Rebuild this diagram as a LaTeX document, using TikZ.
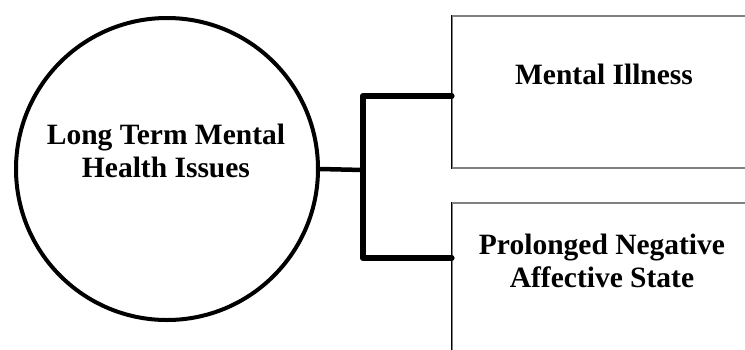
\documentclass[tikz,border=0pt]{standalone}
\usepackage{fontspec}
\setmainfont{Liberation Serif}

\tikzset{
    issue/.style={circle, draw=black, line width=4pt, inner sep=0pt, minimum size=302pt},
    kind/.style={rectangle, draw=gray, line width=1.2pt, inner sep=0pt, minimum width=302pt, minimum height=152pt},
    lbl/.style={align=center, inner sep=0pt, font=\bfseries\fontsize{29.5}{32.5}\selectfont},
    stem/.style={line width=4.5pt},
    bracket/.style={line width=6.5pt, line cap=round, line join=round}
}

\begin{document}
\begin{tikzpicture}[x=1pt,y=-1pt]
    
        \useasboundingbox (0,0) rectangle (745,349);
        \clip (0,0) rectangle (745,349);
        
        \node[issue] (lt) at (167,169) {};
        \node[lbl] (lttext) at (166,151) {Long Term Mental\\Health Issues};
        
        \node[kind] (mi) at (603,92) {};
        \draw[line width=1.4pt] (mi.north west) -- (mi.south west);
        \node[lbl] (mitext) at (604,74) {Mental Illness};
        
        \node[kind] (pn) at (603,279) {};
        \draw[line width=1.4pt] (pn.north west) -- (pn.south west);
        \node[lbl] (pntext) at (602,261) {Prolonged Negative\\Affective State};
        
        \coordinate (fork) at (363,170);
        \coordinate (miin) at ([yshift=-4pt]mi.west);
        \coordinate (pnin) at ([yshift=21pt]pn.west);
        
        \draw[stem] (lt.east) -- (fork);
        \draw[bracket] (miin) -| (fork) |- (pnin);
        
        \end{tikzpicture}
\end{document}
